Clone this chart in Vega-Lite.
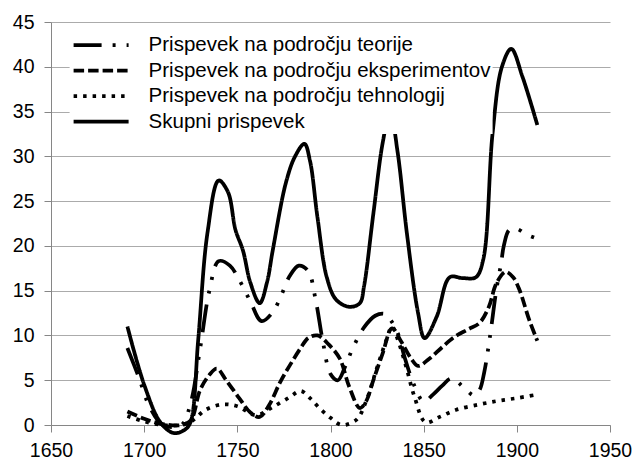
{
  "$schema": "https://vega.github.io/schema/vega-lite/v6.json",
  "width": 559,
  "height": 403,
  "autosize": "none",
  "padding": {"left": 51, "top": 22, "right": 24, "bottom": 36},
  "background": "white",
  "config": {"view": {"stroke": null}, "font": "Liberation Sans"},
  "data": {"values": [
    {"series": "Prispevek na področju teorije", "year": 1691, "value": 8.6},
    {"series": "Prispevek na področju teorije", "year": 1697, "value": 5.4},
    {"series": "Prispevek na področju teorije", "year": 1703, "value": 2.0},
    {"series": "Prispevek na področju teorije", "year": 1710, "value": 0.0},
    {"series": "Prispevek na področju teorije", "year": 1720, "value": 0.0},
    {"series": "Prispevek na področju teorije", "year": 1725, "value": 2.5},
    {"series": "Prispevek na področju teorije", "year": 1730, "value": 8.5},
    {"series": "Prispevek na področju teorije", "year": 1735, "value": 15.0},
    {"series": "Prispevek na področju teorije", "year": 1740, "value": 18.3},
    {"series": "Prispevek na področju teorije", "year": 1746, "value": 17.8},
    {"series": "Prispevek na področju teorije", "year": 1751, "value": 16.2},
    {"series": "Prispevek na področju teorije", "year": 1757, "value": 13.8},
    {"series": "Prispevek na področju teorije", "year": 1763, "value": 11.6},
    {"series": "Prispevek na področju teorije", "year": 1769, "value": 12.6},
    {"series": "Prispevek na področju teorije", "year": 1774, "value": 14.7},
    {"series": "Prispevek na področju teorije", "year": 1778, "value": 16.6},
    {"series": "Prispevek na področju teorije", "year": 1783, "value": 17.8},
    {"series": "Prispevek na področju teorije", "year": 1788, "value": 17.2},
    {"series": "Prispevek na področju teorije", "year": 1792, "value": 14.0},
    {"series": "Prispevek na področju teorije", "year": 1796, "value": 9.2},
    {"series": "Prispevek na področju teorije", "year": 1800, "value": 5.7},
    {"series": "Prispevek na področju teorije", "year": 1804, "value": 5.0},
    {"series": "Prispevek na področju teorije", "year": 1808, "value": 6.6},
    {"series": "Prispevek na področju teorije", "year": 1812, "value": 8.6},
    {"series": "Prispevek na področju teorije", "year": 1818, "value": 10.9},
    {"series": "Prispevek na področju teorije", "year": 1824, "value": 12.2},
    {"series": "Prispevek na področju teorije", "year": 1829, "value": 12.4},
    {"series": "Prispevek na področju teorije", "year": 1832, "value": 11.8},
    {"series": "Prispevek na področju teorije", "year": 1836, "value": 10.3},
    {"series": "Prispevek na področju teorije", "year": 1840, "value": 7.4},
    {"series": "Prispevek na področju teorije", "year": 1845, "value": 4.4},
    {"series": "Prispevek na področju teorije", "year": 1850, "value": 2.6},
    {"series": "Prispevek na področju teorije", "year": 1855, "value": 3.4},
    {"series": "Prispevek na področju teorije", "year": 1860, "value": 4.4},
    {"series": "Prispevek na področju teorije", "year": 1865, "value": 5.2},
    {"series": "Prispevek na področju teorije", "year": 1872, "value": 4.1},
    {"series": "Prispevek na področju teorije", "year": 1877, "value": 3.3},
    {"series": "Prispevek na področju teorije", "year": 1880, "value": 3.9},
    {"series": "Prispevek na področju teorije", "year": 1882.6, "value": 6.0},
    {"series": "Prispevek na področju teorije", "year": 1884.4, "value": 8.2},
    {"series": "Prispevek na področju teorije", "year": 1886.2, "value": 10.8},
    {"series": "Prispevek na področju teorije", "year": 1889, "value": 15.1},
    {"series": "Prispevek na področju teorije", "year": 1891.6, "value": 18.1},
    {"series": "Prispevek na področju teorije", "year": 1893, "value": 20.0},
    {"series": "Prispevek na področju teorije", "year": 1896, "value": 21.8},
    {"series": "Prispevek na področju teorije", "year": 1900, "value": 21.9},
    {"series": "Prispevek na področju teorije", "year": 1905, "value": 21.3},
    {"series": "Prispevek na področju teorije", "year": 1911, "value": 20.8},

    {"series": "Prispevek na področju eksperimentov", "year": 1691, "value": 1.5},
    {"series": "Prispevek na področju eksperimentov", "year": 1700, "value": 0.7},
    {"series": "Prispevek na področju eksperimentov", "year": 1710, "value": 0.1},
    {"series": "Prispevek na področju eksperimentov", "year": 1720, "value": 0.0},
    {"series": "Prispevek na področju eksperimentov", "year": 1725, "value": 0.5},
    {"series": "Prispevek na področju eksperimentov", "year": 1730, "value": 3.9},
    {"series": "Prispevek na področju eksperimentov", "year": 1735, "value": 5.6},
    {"series": "Prispevek na področju eksperimentov", "year": 1739, "value": 6.3},
    {"series": "Prispevek na področju eksperimentov", "year": 1744, "value": 5.0},
    {"series": "Prispevek na področju eksperimentov", "year": 1751, "value": 3.0},
    {"series": "Prispevek na področju eksperimentov", "year": 1757, "value": 1.4},
    {"series": "Prispevek na področju eksperimentov", "year": 1762, "value": 0.9},
    {"series": "Prispevek na področju eksperimentov", "year": 1767, "value": 2.2},
    {"series": "Prispevek na področju eksperimentov", "year": 1773, "value": 4.8},
    {"series": "Prispevek na področju eksperimentov", "year": 1778, "value": 6.6},
    {"series": "Prispevek na področju eksperimentov", "year": 1784, "value": 8.6},
    {"series": "Prispevek na področju eksperimentov", "year": 1788, "value": 9.7},
    {"series": "Prispevek na področju eksperimentov", "year": 1793, "value": 10.0},
    {"series": "Prispevek na področju eksperimentov", "year": 1799, "value": 9.0},
    {"series": "Prispevek na področju eksperimentov", "year": 1805, "value": 7.4},
    {"series": "Prispevek na področju eksperimentov", "year": 1810, "value": 4.3},
    {"series": "Prispevek na področju eksperimentov", "year": 1815.7, "value": 1.9},
    {"series": "Prispevek na področju eksperimentov", "year": 1819, "value": 2.6},
    {"series": "Prispevek na področju eksperimentov", "year": 1823, "value": 5.0},
    {"series": "Prispevek na področju eksperimentov", "year": 1828, "value": 8.0},
    {"series": "Prispevek na področju eksperimentov", "year": 1833, "value": 10.8},
    {"series": "Prispevek na področju eksperimentov", "year": 1838, "value": 9.3},
    {"series": "Prispevek na področju eksperimentov", "year": 1843, "value": 7.5},
    {"series": "Prispevek na področju eksperimentov", "year": 1847, "value": 6.6},
    {"series": "Prispevek na področju eksperimentov", "year": 1853, "value": 7.4},
    {"series": "Prispevek na področju eksperimentov", "year": 1860, "value": 8.7},
    {"series": "Prispevek na področju eksperimentov", "year": 1867, "value": 9.9},
    {"series": "Prispevek na področju eksperimentov", "year": 1874, "value": 10.7},
    {"series": "Prispevek na področju eksperimentov", "year": 1880, "value": 11.4},
    {"series": "Prispevek na področju eksperimentov", "year": 1885, "value": 13.2},
    {"series": "Prispevek na področju eksperimentov", "year": 1889, "value": 15.8},
    {"series": "Prispevek na področju eksperimentov", "year": 1894, "value": 17.1},
    {"series": "Prispevek na področju eksperimentov", "year": 1898, "value": 16.5},
    {"series": "Prispevek na področju eksperimentov", "year": 1901.4, "value": 15.1},
    {"series": "Prispevek na področju eksperimentov", "year": 1906.7, "value": 11.7},
    {"series": "Prispevek na področju eksperimentov", "year": 1911, "value": 9.4},

    {"series": "Prispevek na področju tehnologij", "year": 1691, "value": 1.0},
    {"series": "Prispevek na področju tehnologij", "year": 1700, "value": 0.4},
    {"series": "Prispevek na področju tehnologij", "year": 1710, "value": 0.0},
    {"series": "Prispevek na področju tehnologij", "year": 1720, "value": 0.0},
    {"series": "Prispevek na področju tehnologij", "year": 1726, "value": 0.5},
    {"series": "Prispevek na področju tehnologij", "year": 1733, "value": 1.7},
    {"series": "Prispevek na področju tehnologij", "year": 1742, "value": 2.3},
    {"series": "Prispevek na področju tehnologij", "year": 1750, "value": 2.1},
    {"series": "Prispevek na področju tehnologij", "year": 1760, "value": 1.1},
    {"series": "Prispevek na področju tehnologij", "year": 1769, "value": 2.0},
    {"series": "Prispevek na področju tehnologij", "year": 1778, "value": 3.1},
    {"series": "Prispevek na področju tehnologij", "year": 1784, "value": 3.8},
    {"series": "Prispevek na področju tehnologij", "year": 1789, "value": 3.0},
    {"series": "Prispevek na področju tehnologij", "year": 1794, "value": 1.9},
    {"series": "Prispevek na področju tehnologij", "year": 1800, "value": 0.8},
    {"series": "Prispevek na področju tehnologij", "year": 1806, "value": 0.0},
    {"series": "Prispevek na področju tehnologij", "year": 1814, "value": 0.6},
    {"series": "Prispevek na področju tehnologij", "year": 1819, "value": 2.6},
    {"series": "Prispevek na področju tehnologij", "year": 1824.5, "value": 6.1},
    {"series": "Prispevek na področju tehnologij", "year": 1830, "value": 9.5},
    {"series": "Prispevek na področju tehnologij", "year": 1833, "value": 11.0},
    {"series": "Prispevek na področju tehnologij", "year": 1836, "value": 9.6},
    {"series": "Prispevek na področju tehnologij", "year": 1840.6, "value": 6.5},
    {"series": "Prispevek na področju tehnologij", "year": 1845, "value": 3.2},
    {"series": "Prispevek na področju tehnologij", "year": 1851, "value": 0.3},
    {"series": "Prispevek na področju tehnologij", "year": 1858.5, "value": 0.9},
    {"series": "Prispevek na področju tehnologij", "year": 1867.5, "value": 1.7},
    {"series": "Prispevek na področju tehnologij", "year": 1880, "value": 2.3},
    {"series": "Prispevek na področju tehnologij", "year": 1890, "value": 2.7},
    {"series": "Prispevek na področju tehnologij", "year": 1900, "value": 3.0},
    {"series": "Prispevek na področju tehnologij", "year": 1911, "value": 3.4},

    {"series": "Skupni prispevek", "year": 1691, "value": 11.0},
    {"series": "Skupni prispevek", "year": 1700, "value": 4.5},
    {"series": "Skupni prispevek", "year": 1709, "value": 0.2},
    {"series": "Skupni prispevek", "year": 1716, "value": -0.9},
    {"series": "Skupni prispevek", "year": 1722, "value": -0.5},
    {"series": "Skupni prispevek", "year": 1725, "value": 0.4},
    {"series": "Skupni prispevek", "year": 1729, "value": 9.5},
    {"series": "Skupni prispevek", "year": 1734, "value": 21.5},
    {"series": "Skupni prispevek", "year": 1740, "value": 27.3},
    {"series": "Skupni prispevek", "year": 1745, "value": 26.0},
    {"series": "Skupni prispevek", "year": 1749, "value": 21.8},
    {"series": "Skupni prispevek", "year": 1753, "value": 19.5},
    {"series": "Skupni prispevek", "year": 1757, "value": 15.9},
    {"series": "Skupni prispevek", "year": 1762, "value": 13.6},
    {"series": "Skupni prispevek", "year": 1766, "value": 16.0},
    {"series": "Skupni prispevek", "year": 1769, "value": 19.5},
    {"series": "Skupni prispevek", "year": 1776, "value": 27.0},
    {"series": "Skupni prispevek", "year": 1781, "value": 30.0},
    {"series": "Skupni prispevek", "year": 1786, "value": 31.4},
    {"series": "Skupni prispevek", "year": 1789, "value": 29.5},
    {"series": "Skupni prispevek", "year": 1793, "value": 23.2},
    {"series": "Skupni prispevek", "year": 1798, "value": 16.5},
    {"series": "Skupni prispevek", "year": 1803, "value": 14.0},
    {"series": "Skupni prispevek", "year": 1810, "value": 13.2},
    {"series": "Skupni prispevek", "year": 1815.7, "value": 13.6},
    {"series": "Skupni prispevek", "year": 1818, "value": 15.5},
    {"series": "Skupni prispevek", "year": 1823, "value": 23.6},
    {"series": "Skupni prispevek", "year": 1828, "value": 31.5},
    {"series": "Skupni prispevek", "year": 1832, "value": 35.0},
    {"series": "Skupni prispevek", "year": 1836, "value": 30.5},
    {"series": "Skupni prispevek", "year": 1841, "value": 21.4},
    {"series": "Skupni prispevek", "year": 1847, "value": 12.5},
    {"series": "Skupni prispevek", "year": 1850.5, "value": 9.7},
    {"series": "Skupni prispevek", "year": 1857, "value": 12.1},
    {"series": "Skupni prispevek", "year": 1864, "value": 16.5},
    {"series": "Skupni prispevek", "year": 1871, "value": 16.4},
    {"series": "Skupni prispevek", "year": 1878, "value": 16.5},
    {"series": "Skupni prispevek", "year": 1882, "value": 18.5},
    {"series": "Skupni prispevek", "year": 1887, "value": 32.6},
    {"series": "Skupni prispevek", "year": 1892, "value": 40.0},
    {"series": "Skupni prispevek", "year": 1897, "value": 42.0},
    {"series": "Skupni prispevek", "year": 1903, "value": 38.9},
    {"series": "Skupni prispevek", "year": 1911, "value": 33.5}
  ]},
  "mark": {"type": "line", "interpolate": "catmull-rom", "strokeWidth": 3.75, "color": "#000000", "strokeCap": "butt", "clip": false},
  "encoding": {
    "x": {
      "field": "year", "type": "quantitative",
      "scale": {"domain": [1650, 1950], "nice": false, "zero": false},
      "axis": {
        "values": [1650, 1700, 1750, 1800, 1850, 1900, 1950],
        "format": "d", "title": null, "grid": false,
        "domainColor": "#868686", "tickColor": "#868686", "tickSize": 7,
        "labelFontSize": 19.5, "labelColor": "#000000", "labelPadding": 9,
        "labelFont": "Liberation Sans", "labelFlush": false, "labelOverlap": false
      }
    },
    "y": {
      "field": "value", "type": "quantitative",
      "scale": {"domain": [0, 45], "nice": false},
      "axis": {
        "values": [0, 5, 10, 15, 20, 25, 30, 35, 40, 45],
        "title": null, "grid": true, "gridColor": "#ababab",
        "domainColor": "#868686", "tickColor": "#868686", "tickSize": 7,
        "labelFontSize": 19.5, "labelColor": "#000000", "labelPadding": 10,
        "labelFont": "Liberation Sans", "labelOverlap": false
      }
    },
    "strokeDash": {
      "field": "series", "type": "nominal",
      "scale": {
        "domain": ["Prispevek na področju teorije", "Prispevek na področju eksperimentov", "Prispevek na področju tehnologij", "Skupni prispevek"],
        "range": [[28, 11, 3, 11, 3, 11], [10.5, 4], [3.5, 6], [1, 0]]
      },
      "legend": {
        "title": null, "orient": "none", "legendX": 18.6, "legendY": 11,
        "padding": 2, "fillColor": "white", "strokeColor": null,
        "symbolType": "stroke", "symbolSize": 3025, "symbolStrokeWidth": 3.75,
        "symbolStrokeColor": "#000000",
        "labelFontSize": 20.5, "labelFont": "Liberation Sans", "labelColor": "#000000",
        "labelOffset": 18, "clipHeight": 20, "rowPadding": 4.5, "labelLimit": 600,
        "direction": "vertical"
      }
    }
  }
}
